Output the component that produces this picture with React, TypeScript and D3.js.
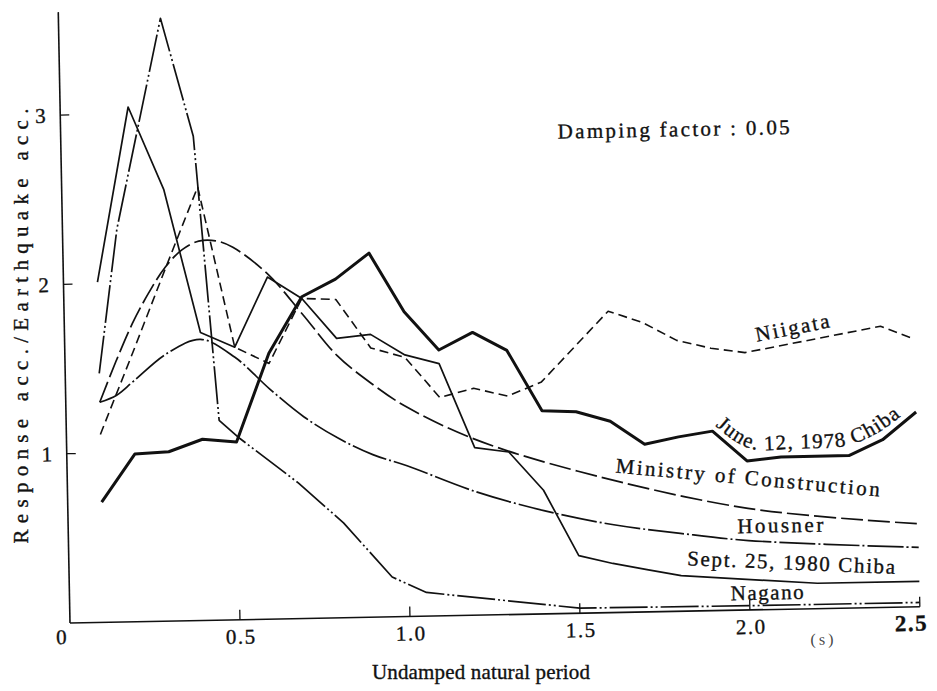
import React from "react";
import * as d3 from "d3";

// Acceleration response spectra (damping 0.05): response acc. / earthquake acc. vs undamped natural period (s)
type Pt = [number, number];

const niigata: Pt[] = [
  [0.1, 1.11], [0.2, 1.59], [0.3, 2.08], [0.4, 2.56], [0.5, 1.61], [0.6, 1.51],
  [0.7, 1.89], [0.8, 1.88], [0.9, 1.59], [1.0, 1.53], [1.1, 1.29], [1.2, 1.34],
  [1.3, 1.29], [1.4, 1.37], [1.6, 1.78], [1.7, 1.71], [1.8, 1.6], [1.9, 1.55],
  [2.0, 1.52], [2.4, 1.66], [2.5, 1.58],
];

const chiba1978: Pt[] = [
  [0.1, 0.71], [0.2, 0.99], [0.3, 1.0], [0.4, 1.07], [0.5, 1.05], [0.6, 1.57],
  [0.7, 1.9], [0.8, 2.0], [0.9, 2.15], [1.0, 1.8], [1.1, 1.57], [1.2, 1.67],
  [1.3, 1.56], [1.4, 1.2], [1.5, 1.19], [1.6, 1.13], [1.7, 0.99], [1.8, 1.03],
  [1.9, 1.06], [2.0, 0.88], [2.1, 0.9], [2.2, 0.9], [2.3, 0.9], [2.4, 0.99], [2.5, 1.15],
];

const chiba1980: Pt[] = [
  [0.1, 2.01], [0.2, 3.04], [0.3, 2.55], [0.4, 1.7], [0.5, 1.61], [0.6, 2.02],
  [0.7, 1.89], [0.8, 1.65], [0.9, 1.67], [1.0, 1.545], [1.1, 1.49], [1.2, 0.99],
  [1.3, 0.96], [1.4, 0.73], [1.5, 0.34], [1.6, 0.29], [1.7, 0.25], [1.8, 0.21],
  [2.2, 0.15], [2.5, 0.15],
];

const nagano: Pt[] = [
  [0.1, 1.47], [0.16, 2.32], [0.3, 3.56], [0.39, 2.86], [0.45, 1.18], [0.51, 1.07],
  [0.68, 0.8], [0.81, 0.56], [0.95, 0.235], [1.05, 0.14], [1.5, 0.03], [2.0, 0.025],
  [2.5, 0.025],
];

const ministry: Pt[] = [
  [0.1, 1.3], [0.15, 1.54], [0.2, 1.76], [0.25, 1.94], [0.3, 2.09], [0.35, 2.19],
  [0.4, 2.24], [0.45, 2.24], [0.5, 2.2], [0.6, 2.04], [0.7, 1.8], [0.8, 1.55],
  [0.9, 1.38], [1.0, 1.24], [1.2, 1.04], [1.5, 0.84], [2.0, 0.6], [2.5, 0.49],
];

const housner: Pt[] = [
  [0.1, 1.3], [0.15, 1.34], [0.2, 1.42], [0.3, 1.58], [0.4, 1.66], [0.5, 1.55],
  [0.6, 1.36], [0.7, 1.19], [0.8, 1.06], [0.9, 0.96], [1.0, 0.89], [1.2, 0.73],
  [1.4, 0.61], [1.6, 0.52], [1.8, 0.46], [2.0, 0.41], [2.5, 0.35],
];

const xTicks = [0.5, 1.0, 1.5, 2.0, 2.5];
const xTickLabels = ["0.5", "1.0", "1.5", "2.0", "2.5"];
const yTicks = [1, 2, 3];

const FONT = "'Liberation Serif', 'Times New Roman', serif";
const INK = "#111";

// slightly heavier glyphs for all lettering
const txt = { fill: INK, stroke: INK, strokeWidth: 0.35 };

export default function App() {
  const x = d3.scaleLinear().domain([0, 2.5]).range([70, 920]);
  const y = d3.scaleLinear().domain([0, 3]).range([623, 115]);

  const straight = d3.line<Pt>().x((d) => x(d[0])).y((d) => y(d[1]));
  const smooth = d3
    .line<Pt>()
    .x((d) => x(d[0]))
    .y((d) => y(d[1]))
    .curve(d3.curveCatmullRom.alpha(0.5));

  // baseline for the curved June 1978 label, riding just above its line
  const labelLine = d3
    .line<Pt>()
    .x((d) => x(d[0]))
    .y((d) => y(d[1]) - 8)
    .curve(d3.curveBasis);
  const juneLabelPath = labelLine(chiba1978.filter((d) => d[0] >= 1.9));

  const series = [
    { data: nagano, gen: straight, w: 1.7, dash: "38,3,2,3,2,3" },
    { data: housner, gen: smooth, w: 1.7, dash: "36,3,2,3" },
    { data: ministry, gen: smooth, w: 1.7, dash: "22,5" },
    { data: chiba1980, gen: straight, w: 1.7, dash: undefined },
    { data: niigata, gen: straight, w: 1.6, dash: "9,5" },
    { data: chiba1978, gen: straight, w: 3, dash: undefined },
  ];

  return (
    <svg
      width={937}
      height={691}
      viewBox="0 0 937 691"
      style={{ position: "absolute", left: 0, top: 0, background: "#fff", fontFamily: FONT }}
    >
      <rect width={937} height={691} fill="#fff" />
      <g transform="rotate(-1.1, 70, 623)">
        {/* axes */}
        <line x1={70} y1={12} x2={70} y2={623} stroke={INK} strokeWidth={1.6} />
        <line x1={70} y1={623} x2={920} y2={623} stroke={INK} strokeWidth={1.6} />
        {yTicks.map((t) => (
          <g key={`yt${t}`}>
            <line x1={70} x2={79} y1={y(t)} y2={y(t)} stroke={INK} strokeWidth={1.3} />
            <text x={50} y={y(t)} dy="0.35em" textAnchor="middle" fontSize={21} {...txt}>
              {t}
            </text>
          </g>
        ))}
        {xTicks.map((t, i) => (
          <g key={`xt${t}`}>
            <line x1={x(t)} x2={x(t)} y1={623} y2={613} stroke={INK} strokeWidth={1.3} />
            <text
              x={t === 2.5 ? x(t) + 8 : x(t) + 1}
              y={647}
              textAnchor={t === 2.5 ? "end" : "middle"}
              fontSize={t === 2.5 ? 23 : 21}
              fontWeight={t === 2.5 ? 700 : 400}
              letterSpacing={1.5}
              {...txt}
            >
              {xTickLabels[i]}
            </text>
          </g>
        ))}
        <text x={x(0) - 9} y={644} textAnchor="middle" fontSize={21} {...txt}>
          0
        </text>
        <text x={823} y={659} textAnchor="middle" fontSize={16} fill="#444" letterSpacing={3}>
          (s)
        </text>

        {/* spectra */}
        {series.map((s, i) => (
          <path
            key={i}
            d={s.gen(s.data) || ""}
            fill="none"
            stroke={INK}
            strokeWidth={s.w}
            strokeDasharray={s.dash}
            strokeLinejoin="round"
          />
        ))}

        {/* series labels */}
        <text
          transform="translate(762,355) rotate(-10)"
          fontSize={21}
          textLength={75}
          lengthAdjust="spacing"
          {...txt}
        >
          Niigata
        </text>
        <path id="june-label" d={juneLabelPath || ""} fill="none" stroke="none" />
        <text fontSize={21} letterSpacing={1.2} {...txt}>
          <textPath href="#june-label" startOffset={4}>
            June. 12, 1978 Chiba
          </textPath>
        </text>
        <text
          transform="translate(618,483) rotate(6.3)"
          fontSize={21}
          textLength={265}
          lengthAdjust="spacing"
          {...txt}
        >
          Ministry of Construction
        </text>
        <text x={739} y={546} fontSize={21} textLength={86} lengthAdjust="spacing" {...txt}>
          Housner
        </text>
        <text
          transform="translate(688,577) rotate(3.5)"
          fontSize={21}
          textLength={208}
          lengthAdjust="spacing"
          {...txt}
        >
          Sept. 25, 1980 Chiba
        </text>
        <text x={731} y={613} fontSize={21} textLength={73} lengthAdjust="spacing" {...txt}>
          Nagano
        </text>

        <text x={567} y={148} fontSize={21} textLength={232} lengthAdjust="spacing" {...txt}>
          Damping factor : 0.05
        </text>
      </g>

      {/* axis titles */}
      <text
        transform="translate(28,326) rotate(-90)"
        textAnchor="middle"
        fontSize={21}
        textLength={435}
        lengthAdjust="spacing"
        {...txt}
      >
        Response acc./Earthquake acc.
      </text>
      <text
        x={481}
        y={679}
        textAnchor="middle"
        fontSize={21}
        textLength={218}
        lengthAdjust="spacing"
        {...txt}
      >
        Undamped natural period
      </text>
    </svg>
  );
}
